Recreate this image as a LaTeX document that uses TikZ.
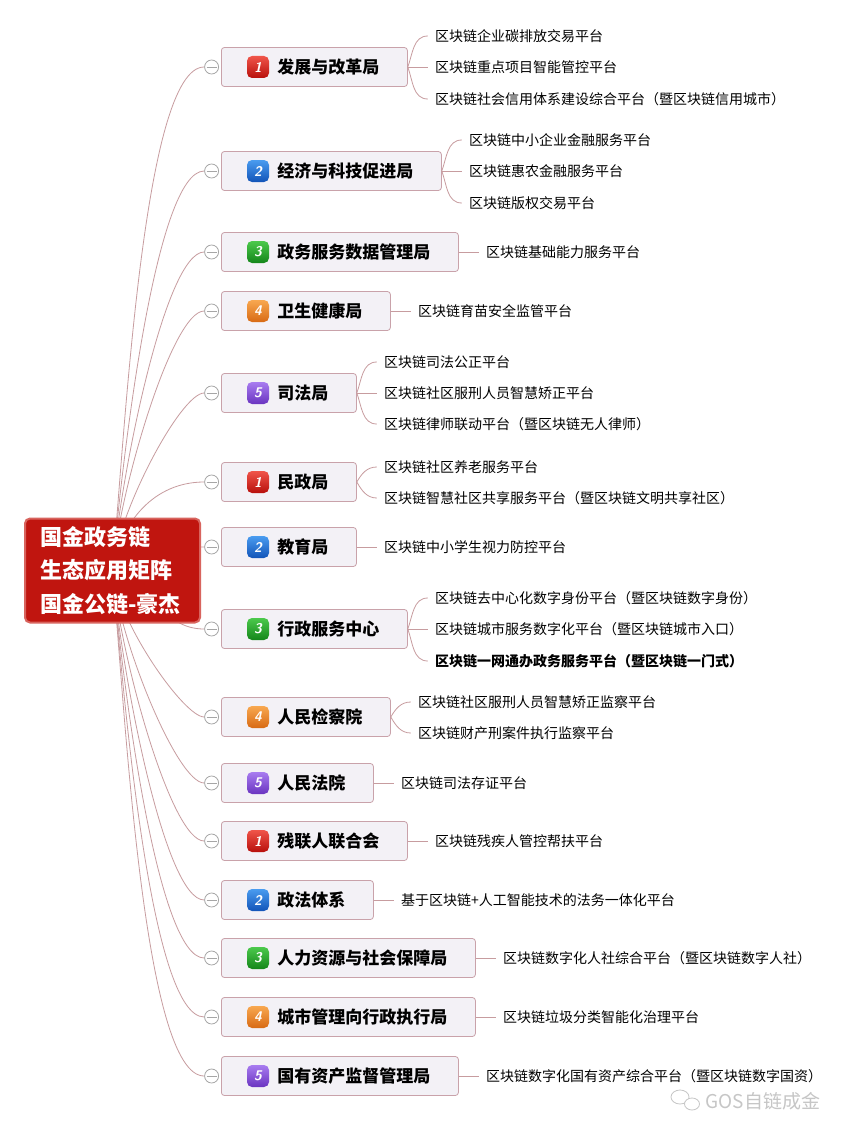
\documentclass[tikz,border=0pt]{standalone}
\usepackage{fontspec}
\setmainfont{Noto Sans CJK SC}
\usetikzlibrary{positioning, backgrounds}

\definecolor{rootred}{HTML}{C0150F}
\definecolor{rootedge}{HTML}{D8645E}
\definecolor{boxfill}{HTML}{F3F1F6}
\definecolor{boxedge}{HTML}{C9A2AA}
\definecolor{linkcol}{HTML}{C79C9F}
\definecolor{redtop}{HTML}{F0554A}
\definecolor{redbot}{HTML}{B8100C}
\definecolor{bluetop}{HTML}{4A9CF0}
\definecolor{bluebot}{HTML}{1254B8}
\definecolor{greentop}{HTML}{4CC94C}
\definecolor{greenbot}{HTML}{14861A}
\definecolor{orangetop}{HTML}{F8A850}
\definecolor{orangebot}{HTML}{D86A14}
\definecolor{purpletop}{HTML}{A87CF0}
\definecolor{purplebot}{HTML}{6A34C0}

\tikzset{
  rootbox/.style={draw=rootedge, line width=2pt, fill=rootred, rounded corners=5pt,
    text=white, font=\fontsize{22}{33.5}\selectfont\bfseries, align=left,
    text width=145pt, inner xsep=15pt, minimum height=104pt},
  catbox/.style={draw=boxedge, line width=0.8pt, fill=boxfill, rounded corners=3pt,
    anchor=west, minimum height=39pt, inner xsep=0pt, inner ysep=0pt,
    font=\fontsize{17}{20}\selectfont\bfseries,
    execute at begin node=\hspace*{56pt}, execute at end node=\hspace*{28pt}},
  badge/.style={rounded corners=5pt, minimum size=22pt, inner sep=0pt, text=white,
    font=\sffamily\bfseries\itshape\fontsize{14}{14}\selectfont},
  redbadge/.style={badge, top color=redtop, bottom color=redbot},
  bluebadge/.style={badge, top color=bluetop, bottom color=bluebot},
  greenbadge/.style={badge, top color=greentop, bottom color=greenbot},
  orangebadge/.style={badge, top color=orangetop, bottom color=orangebot},
  purplebadge/.style={badge, top color=purpletop, bottom color=purplebot},
  toggle/.style={circle, draw=gray!70, fill=white, minimum size=14pt, inner sep=0pt,
    line width=0.8pt,
    path picture={\draw[gray!70, line width=0.8pt]
      ([xshift=-5pt]path picture bounding box.center) -- ([xshift=5pt]path picture bounding box.center);}},
  leaf/.style={anchor=west, inner xsep=7pt, inner ysep=1pt, font=\fontsize{14}{16}\selectfont},
  link/.style={draw=linkcol, line width=0.8pt},
  upcurve/.style={out=85, in=180, out looseness=0.75, in looseness=0.3},
  downcurve/.style={out=-85, in=180, out looseness=0.75, in looseness=0.3},
}

\begin{document}
\begin{tikzpicture}[x=1pt, y=-1pt]
    \useasboundingbox (0,0) rectangle (865,1121);

    % Root
    \node[rootbox] (root) at (112.5,570.5) {国金政务链\\生态应用矩阵\\国金公链-豪杰};

    % Category boxes
    \node[catbox] (c1) at (221,67) {发展与改革局};
    \node[catbox] (c2) at (221,171) {经济与科技促进局};
    \node[catbox] (c3) at (221,252) {政务服务数据管理局};
    \node[catbox] (c4) at (221,311) {卫生健康局};
    \node[catbox] (c5) at (221,393) {司法局};
    \node[catbox] (c6) at (221,482) {民政局};
    \node[catbox] (c7) at (221,547) {教育局};
    \node[catbox] (c8) at (221,629) {行政服务中心};
    \node[catbox] (c9) at (221,717) {人民检察院};
    \node[catbox] (c10) at (221,783) {人民法院};
    \node[catbox] (c11) at (221,841) {残联人联合会};
    \node[catbox] (c12) at (221,900) {政法体系};
    \node[catbox] (c13) at (221,958) {人力资源与社会保障局};
    \node[catbox] (c14) at (221,1017) {城市管理向行政执行局};
    \node[catbox] (c15) at (221,1076) {国有资产监督管理局};

    % Number badges
    \node[redbadge] (b1) at (258,67) {1};
    \node[bluebadge] (b2) at (258,171) {2};
    \node[greenbadge] (b3) at (258,252) {3};
    \node[orangebadge] (b4) at (258,311) {4};
    \node[purplebadge] (b5) at (258,393) {5};
    \node[redbadge] (b6) at (258,482) {1};
    \node[bluebadge] (b7) at (258,547) {2};
    \node[greenbadge] (b8) at (258,629) {3};
    \node[orangebadge] (b9) at (258,717) {4};
    \node[purplebadge] (b10) at (258,783) {5};
    \node[redbadge] (b11) at (258,841) {1};
    \node[bluebadge] (b12) at (258,900) {2};
    \node[greenbadge] (b13) at (258,958) {3};
    \node[orangebadge] (b14) at (258,1017) {4};
    \node[purplebadge] (b15) at (258,1076) {5};

    % Collapse toggles
    \node[toggle, left=2pt of c1] (t1) {};
    \node[toggle, left=2pt of c2] (t2) {};
    \node[toggle, left=2pt of c3] (t3) {};
    \node[toggle, left=2pt of c4] (t4) {};
    \node[toggle, left=2pt of c5] (t5) {};
    \node[toggle, left=2pt of c6] (t6) {};
    \node[toggle, left=2pt of c7] (t7) {};
    \node[toggle, left=2pt of c8] (t8) {};
    \node[toggle, left=2pt of c9] (t9) {};
    \node[toggle, left=2pt of c10] (t10) {};
    \node[toggle, left=2pt of c11] (t11) {};
    \node[toggle, left=2pt of c12] (t12) {};
    \node[toggle, left=2pt of c13] (t13) {};
    \node[toggle, left=2pt of c14] (t14) {};
    \node[toggle, left=2pt of c15] (t15) {};

    % Leaves
    \node[leaf] (l1a) at ([xshift=20pt,yshift=31pt]c1.east) {区块链企业碳排放交易平台};
    \node[leaf, right=20pt of c1] (l1b) {区块链重点项目智能管控平台};
    \node[leaf] (l1c) at ([xshift=20pt,yshift=-32pt]c1.east) {区块链社会信用体系建设综合平台（暨区块链信用城市）};
    \node[leaf] (l2a) at ([xshift=20pt,yshift=31pt]c2.east) {区块链中小企业金融服务平台};
    \node[leaf, right=20pt of c2] (l2b) {区块链惠农金融服务平台};
    \node[leaf] (l2c) at ([xshift=20pt,yshift=-32pt]c2.east) {区块链版权交易平台};
    \node[leaf, right=20pt of c3] (l3) {区块链基础能力服务平台};
    \node[leaf, right=20pt of c4] (l4) {区块链育苗安全监管平台};
    \node[leaf] (l5a) at ([xshift=20pt,yshift=31pt]c5.east) {区块链司法公正平台};
    \node[leaf, right=20pt of c5] (l5b) {区块链社区服刑人员智慧矫正平台};
    \node[leaf] (l5c) at ([xshift=20pt,yshift=-31pt]c5.east) {区块链律师联动平台（暨区块链无人律师）};
    \node[leaf] (l6a) at ([xshift=20pt,yshift=15pt]c6.east) {区块链社区养老服务平台};
    \node[leaf] (l6b) at ([xshift=20pt,yshift=-16pt]c6.east) {区块链智慧社区共享服务平台（暨区块链文明共享社区）};
    \node[leaf, right=20pt of c7] (l7) {区块链中小学生视力防控平台};
    \node[leaf] (l8a) at ([xshift=20pt,yshift=31pt]c8.east) {区块链去中心化数字身份平台（暨区块链数字身份）};
    \node[leaf, right=20pt of c8] (l8b) {区块链城市服务数字化平台（暨区块链城市入口）};
    \node[leaf, font=\fontsize{14}{16}\selectfont\bfseries] (l8c) at ([xshift=20pt,yshift=-32pt]c8.east) {区块链一网通办政务服务平台（暨区块链一门式）};
    \node[leaf] (l9a) at ([xshift=20pt,yshift=15pt]c9.east) {区块链社区服刑人员智慧矫正监察平台};
    \node[leaf] (l9b) at ([xshift=20pt,yshift=-16pt]c9.east) {区块链财产刑案件执行监察平台};
    \node[leaf, right=20pt of c10] (l10) {区块链司法存证平台};
    \node[leaf, right=20pt of c11] (l11) {区块链残疾人管控帮扶平台};
    \node[leaf, right=20pt of c12] (l12) {基于区块链+人工智能技术的法务一体化平台};
    \node[leaf, right=20pt of c13] (l13) {区块链数字化人社综合平台（暨区块链数字人社）};
    \node[leaf, right=20pt of c14] (l14) {区块链垃圾分类智能化治理平台};
    \node[leaf, right=20pt of c15] (l15) {区块链数字化国有资产综合平台（暨区块链数字国资）};

    % Watermark
    \draw[gray!45, line width=0.8pt] (680,1097) ellipse (9 and 7);
    \draw[gray!45, line width=0.8pt, fill=white] (692,1104) ellipse (7.5 and 6);
    \node[text=gray!45, font=\fontsize{19}{20}\selectfont, anchor=west] (mark) at (702,1101) {GOS自链成金};

    % Connectors behind the boxes
    \begin{pgfonlayer}{background}
        \fill[white] (0,0) rectangle (865,1121);
        \draw[link] (root.center) to[upcurve] (t1.west);
        \draw[link] (root.center) to[upcurve] (t2.west);
        \draw[link] (root.center) to[upcurve] (t3.west);
        \draw[link] (root.center) to[upcurve] (t4.west);
        \draw[link] (root.center) to[upcurve] (t5.west);
        \draw[link] (root.center) to[out=80, in=180] (t6.west);
        \draw[link] (root.center) to[out=0, in=180] (t7.west);
        \draw[link] (root.center) to[out=-20, in=180] (t8.west);
        \draw[link] (root.center) to[downcurve] (t9.west);
        \draw[link] (root.center) to[downcurve] (t10.west);
        \draw[link] (root.center) to[downcurve] (t11.west);
        \draw[link] (root.center) to[downcurve] (t12.west);
        \draw[link] (root.center) to[downcurve] (t13.west);
        \draw[link] (root.center) to[downcurve] (t14.west);
        \draw[link] (root.center) to[downcurve] (t15.west);
    \end{pgfonlayer}

    % Branches to leaves
    \draw[link] (c1.east) to[out=70, in=180] (l1a.west);
    \draw[link] (c1.east) -- (l1b.west);
    \draw[link] (c1.east) to[out=-70, in=180] (l1c.west);
    \draw[link] (c2.east) to[out=70, in=180] (l2a.west);
    \draw[link] (c2.east) -- (l2b.west);
    \draw[link] (c2.east) to[out=-70, in=180] (l2c.west);
    \draw[link] (c3.east) -- (l3.west);
    \draw[link] (c4.east) -- (l4.west);
    \draw[link] (c5.east) to[out=70, in=180] (l5a.west);
    \draw[link] (c5.east) -- (l5b.west);
    \draw[link] (c5.east) to[out=-70, in=180] (l5c.west);
    \draw[link] (c6.east) to[out=60, in=180] (l6a.west);
    \draw[link] (c6.east) to[out=-60, in=180] (l6b.west);
    \draw[link] (c7.east) -- (l7.west);
    \draw[link] (c8.east) to[out=70, in=180] (l8a.west);
    \draw[link] (c8.east) -- (l8b.west);
    \draw[link] (c8.east) to[out=-70, in=180] (l8c.west);
    \draw[link] (c9.east) to[out=60, in=180] (l9a.west);
    \draw[link] (c9.east) to[out=-60, in=180] (l9b.west);
    \draw[link] (c10.east) -- (l10.west);
    \draw[link] (c11.east) -- (l11.west);
    \draw[link] (c12.east) -- (l12.west);
    \draw[link] (c13.east) -- (l13.west);
    \draw[link] (c14.east) -- (l14.west);
    \draw[link] (c15.east) -- (l15.west);
\end{tikzpicture}
\end{document}
